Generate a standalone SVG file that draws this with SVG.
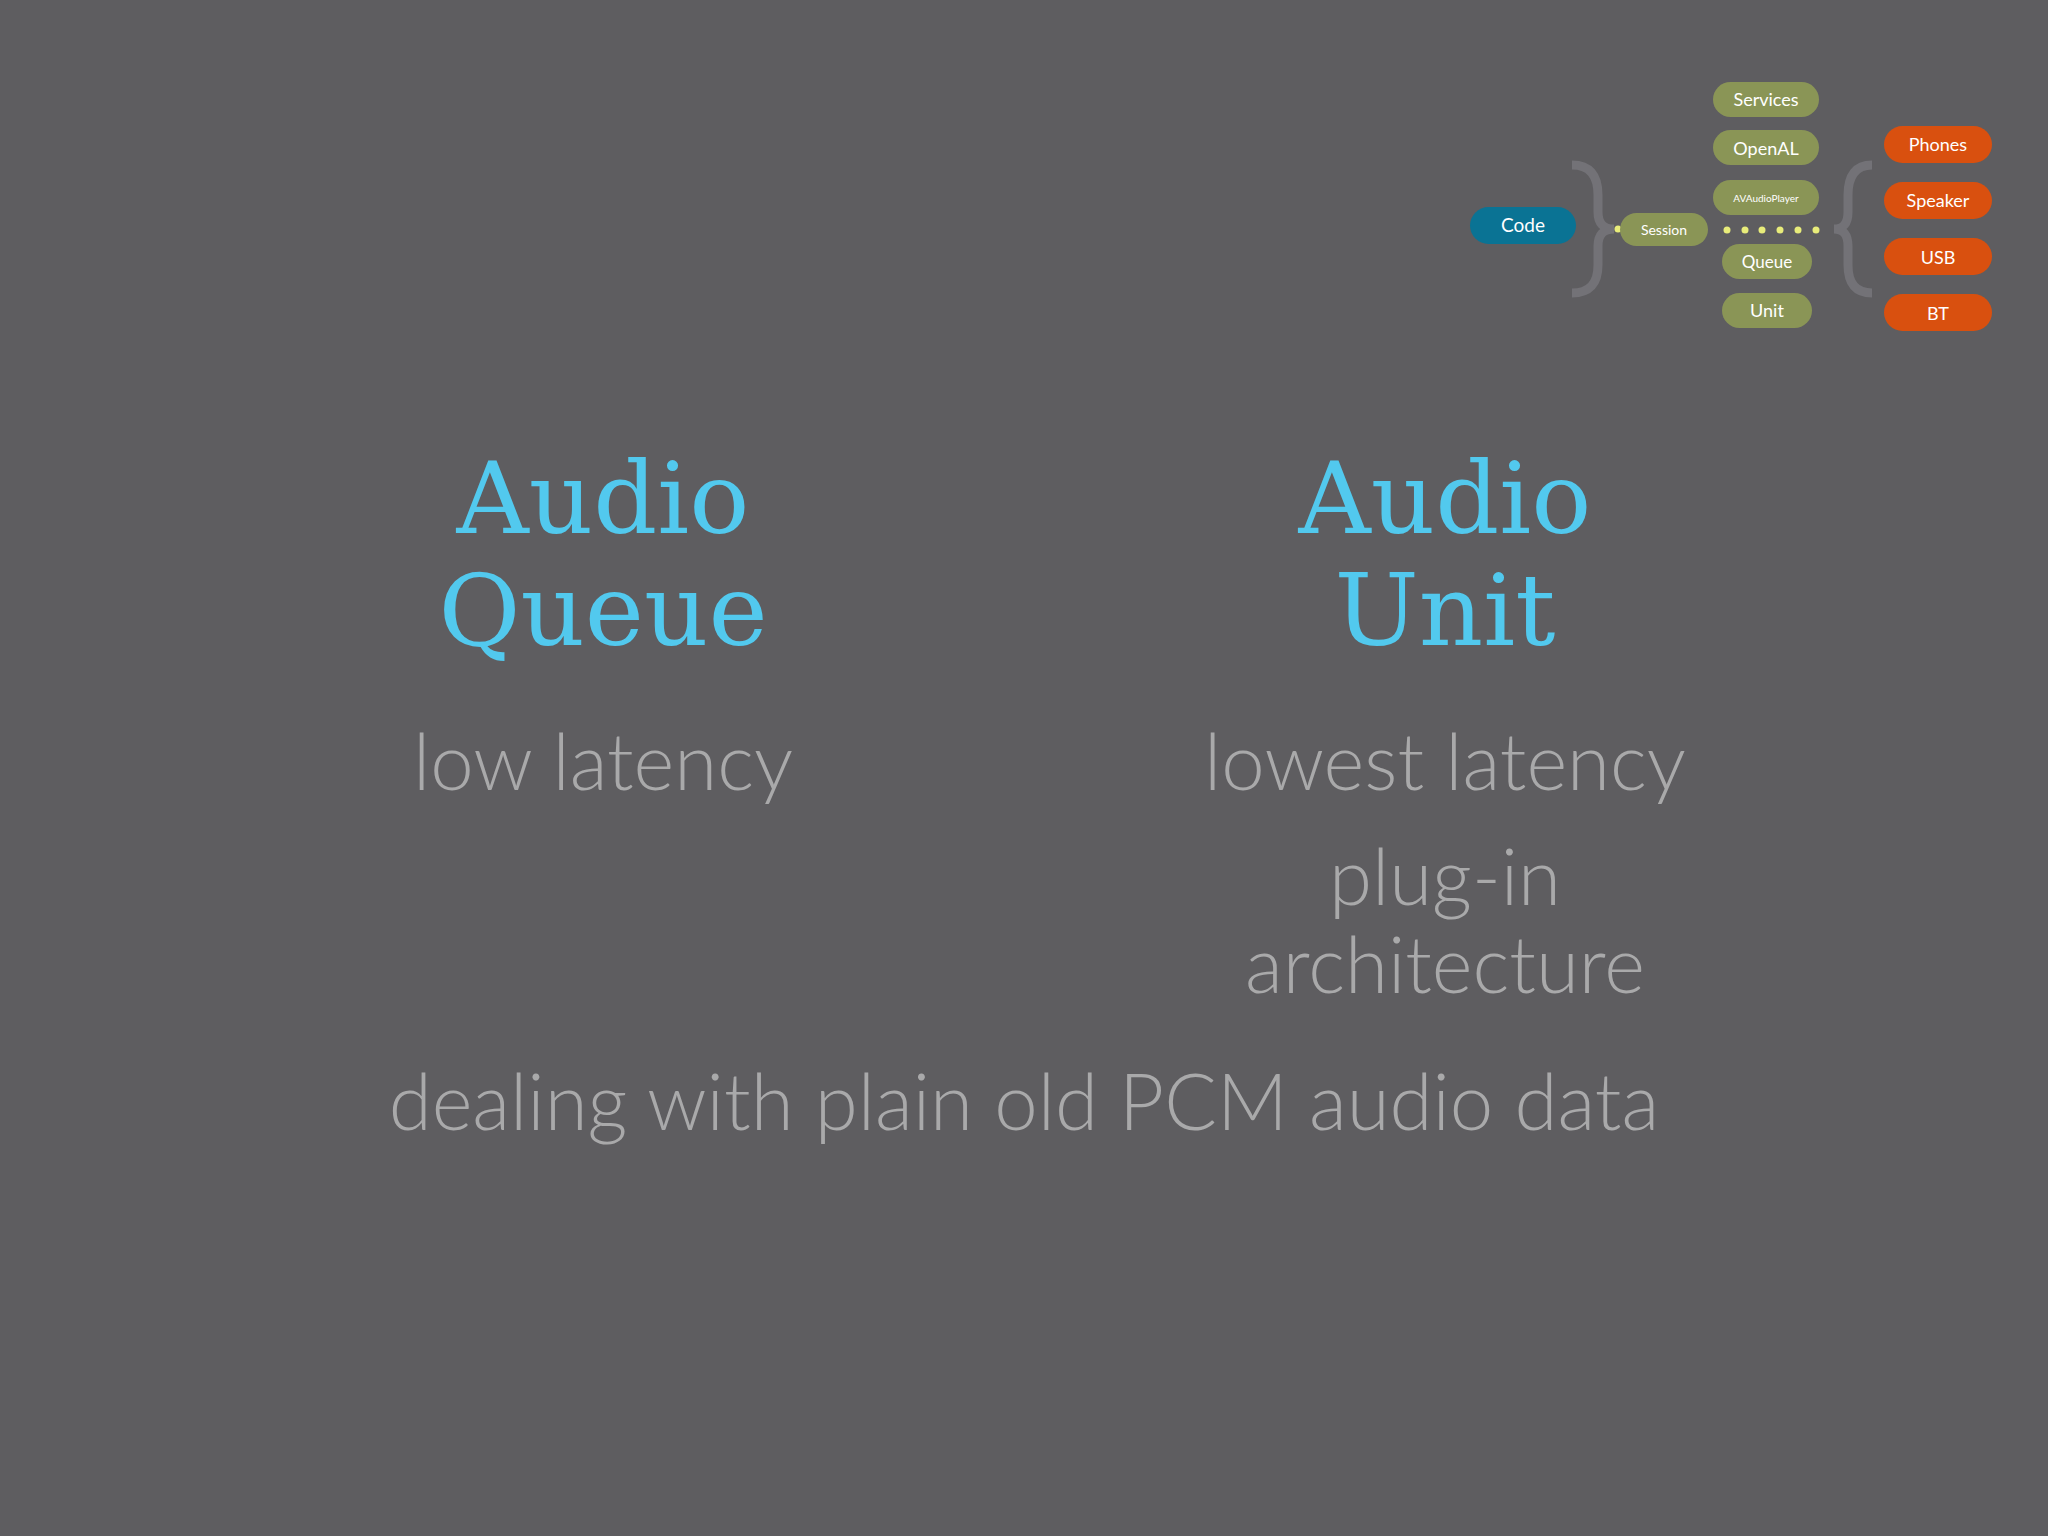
<svg xmlns="http://www.w3.org/2000/svg" width="2048" height="1536" viewBox="0 0 2048 1536">
<style>
.t{font-family:Lato,"Noto Sans",sans-serif;text-anchor:middle;fill:#fff}
.g rect{fill:#8a9556}.o rect{fill:#d9500f}.b rect{fill:#0a7394}
.big{font-family:"DejaVu Serif","Liberation Serif",serif;font-size:100px;fill:#52c9ee;text-anchor:middle}
.sub{font-family:Lato,"Noto Sans",sans-serif;font-weight:300;font-size:78px;fill:#a9a9aa;text-anchor:middle}
.br{fill:none;stroke:#737277;stroke-width:9}
</style>
<rect width="2048" height="1536" fill="#5e5d60"/>
<g id="connectors">
<path class="br" d="M1572,165 Q1598,165 1598,195 L1598,212 Q1598,229 1614,229 Q1598,229 1598,246 L1598,265 Q1598,293 1572,293"/>
<path class="br" d="M1872,165 Q1848,165 1848,195 L1848,212 Q1848,229 1834,229 Q1848,229 1848,246 L1848,265 Q1848,293 1872,293"/>
<g fill="#e8ec7a"><circle cx="1618" cy="229" r="3.5"/><circle cx="1727" cy="230" r="3.5"/><circle cx="1745" cy="230" r="3.5"/><circle cx="1762" cy="230" r="3.5"/><circle cx="1780" cy="230" r="3.5"/><circle cx="1798" cy="230" r="3.5"/><circle cx="1816" cy="230" r="3.5"/></g>
</g>
<g id="code" class="b"><rect x="1470" y="207" width="106" height="37" rx="18.5"/><text class="t" x="1523" y="232" font-size="19">Code</text></g>
<g id="session" class="g"><rect x="1620" y="213" width="88" height="33" rx="16.5"/><text class="t" x="1664" y="235" font-size="14">Session</text></g>
<g id="services" class="g"><rect x="1713" y="82" width="106" height="35" rx="17.5"/><text class="t" x="1766" y="106" font-size="18">Services</text></g>
<g id="openal" class="g"><rect x="1713" y="130" width="106" height="35" rx="17.5"/><text class="t" x="1766" y="155" font-size="18">OpenAL</text></g>
<g id="avaudioplayer" class="g"><rect x="1713" y="180" width="106" height="35" rx="17.5"/><text class="t" x="1766" y="202" font-size="10">AVAudioPlayer</text></g>
<g id="queue" class="g"><rect x="1722" y="244" width="90" height="35" rx="17.5"/><text class="t" x="1767" y="268" font-size="17">Queue</text></g>
<g id="unit" class="g"><rect x="1722" y="293" width="90" height="35" rx="17.5"/><text class="t" x="1767" y="317" font-size="18">Unit</text></g>
<g id="phones" class="o"><rect x="1884" y="126" width="108" height="37" rx="18.5"/><text class="t" x="1938" y="151" font-size="18">Phones</text></g>
<g id="speaker" class="o"><rect x="1884" y="182" width="108" height="37" rx="18.5"/><text class="t" x="1938" y="207" font-size="18">Speaker</text></g>
<g id="usb" class="o"><rect x="1884" y="238" width="108" height="37" rx="18.5"/><text class="t" x="1938" y="264" font-size="18">USB</text></g>
<g id="bt" class="o"><rect x="1884" y="294" width="108" height="37" rx="18.5"/><text class="t" x="1938" y="320" font-size="18">BT</text></g>
<text class="big" x="603" y="533">Audio</text>
<text class="big" x="603" y="645">Queue</text>
<text class="big" x="1445" y="533">Audio</text>
<text class="big" x="1445" y="645">Unit</text>
<text class="sub" x="603" y="790">low latency</text>
<text class="sub" x="1445" y="790">lowest latency</text>
<text class="sub" x="1445" y="905">plug-in</text>
<text class="sub" x="1445" y="993">architecture</text>
<text class="sub" x="1024" y="1130">dealing with plain old PCM audio data</text>
</svg>
